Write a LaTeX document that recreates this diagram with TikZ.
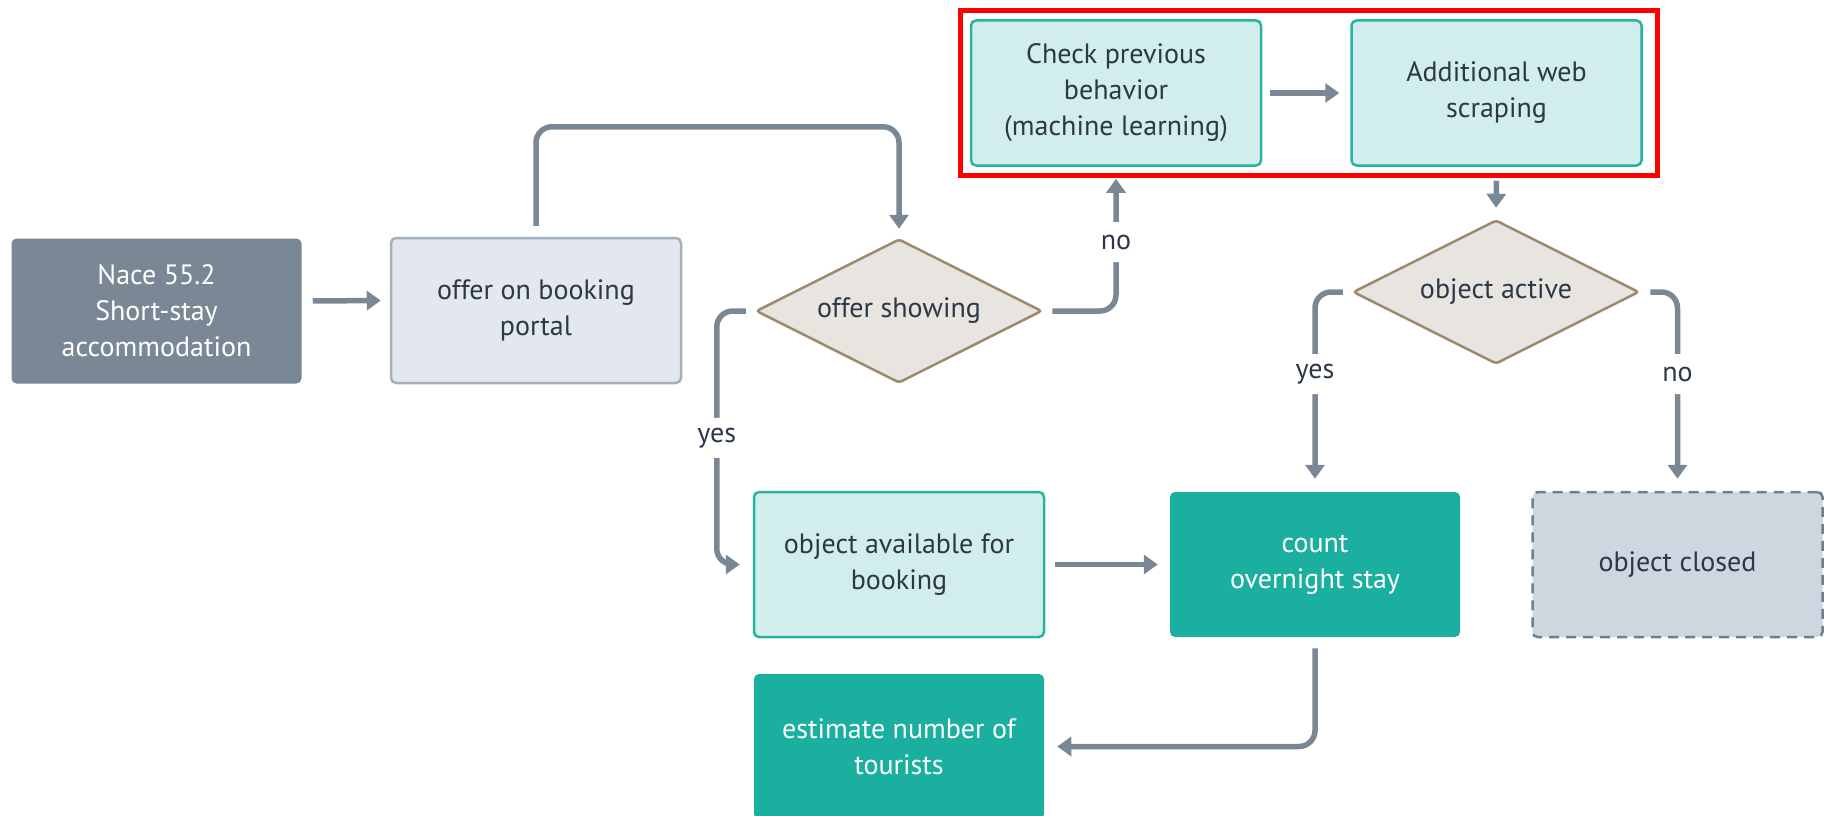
\documentclass[tikz,border=0pt]{standalone}
\usepackage{fontspec}
\setmainfont{PT Sans}
\usetikzlibrary{arrows.meta,calc,shapes.geometric}

\definecolor{slate}{HTML}{7A8896}
\definecolor{ink}{HTML}{2D3748}
\definecolor{mist}{HTML}{E2E8EE}
\definecolor{mistline}{HTML}{A3B1BF}
\definecolor{aqua}{HTML}{D2EEEC}
\definecolor{tealline}{HTML}{27B3A2}
\definecolor{tealfill}{HTML}{1BAF9F}
\definecolor{fog}{HTML}{CDD7E0}
\definecolor{fogline}{HTML}{6F7F8F}
\definecolor{sand}{HTML}{E8E5E0}
\definecolor{umber}{HTML}{9D8A6E}
\definecolor{alert}{HTML}{FF0000}

\newcommand\dfont{\fontsize{28}{36}\selectfont}

\begin{document}
\begin{tikzpicture}[x=1pt,y=-1pt,
  every node/.style={font=\dfont, align=center},
  box/.style={rectangle, rounded corners=5pt, minimum width=290pt,
    minimum height=145pt, line width=2.5pt, inner sep=0pt},
  darkbox/.style={box, fill=slate, text=white},
  greybox/.style={box, fill=mist, draw=mistline, text=ink},
  lightbox/.style={box, fill=aqua, draw=tealline, text=ink},
  tealbox/.style={box, fill=tealfill, text=white},
  closedbox/.style={box, fill=fog, draw=fogline, dash pattern=on 10pt off 7pt, text=ink},
  decision/.style={diamond, aspect=2, fill=sand, draw=umber, line width=2.5pt,
    minimum width=286pt, minimum height=144pt, inner sep=0pt, text=ink,
    rounded corners=3pt},
  conn/.style={draw=slate, line width=5.5pt, rounded corners=16pt,
    -{Triangle[width=19pt,length=14pt]}},
  tag/.style={fill=white, text=ink, inner xsep=3pt, inner ysep=0pt,
    minimum height=40pt},
]
\useasboundingbox (0,0) rectangle (1829,816);

% process steps
\node[darkbox]   (nace)   at (156.5,311)  {Nace 55.2\\Short-stay\\accommodation};
\node[greybox]   (offer)  at (536,310.5)  {offer on booking\\portal};
\node[decision]  (show)   at (899,311)    {offer showing};
\node[lightbox]  (check)  at (1116,93)    {Check previous\\behavior\\(machine learning)};
\node[lightbox]  (add)    at (1496.5,93)  {Additional web\\scraping};
\node[decision]  (active) at (1496,292)   {object active};
\node[lightbox]  (avail)  at (899,564.5)  {object available for\\booking};
\node[tealbox]   (count)  at (1315,564.5) {count\\overnight stay};
\node[closedbox] (closed) at (1677.5,564.5) {object closed};
\node[tealbox]   (est)    at (899,746.5)  {estimate number of\\tourists};

% highlight frame around the extra checks
\draw[alert, line width=5pt]
  ($(check.north west)+(-9pt,9pt)$) rectangle ($(add.south east)+(15pt,-9pt)$);

% connectors
\draw[conn] ($(nace.east)+(10pt,10pt)$) -- ($(offer.west)+(-9pt,10pt)$);
\draw[conn] ($(offer.north)+(0pt,11pt)$) |- ($(show.north)+(0pt,111pt)$)
  -- ($(show.north)+(0pt,9pt)$);
\draw[conn] ($(show.east)+(9pt,0pt)$) -| ($(check.south)+(0pt,-12pt)$)
  node[tag, pos=0.76] {no};
\draw[conn] ($(show.west)+(-9pt,0pt)$) -- ++(-29pt,0pt)
  |- ($(avail.west)+(-13pt,0pt)$) node[tag, pos=0.25] {yes};
\draw[conn] ($(check.east)+(8pt,0pt)$) -- ($(add.west)+(-11pt,0pt)$);
\draw[conn] ($(add.south)+(0pt,-14pt)$) -- ($(active.north)+(0pt,11pt)$);
\draw[conn] ($(active.west)+(-9pt,0pt)$) -| ($(count.north)+(0pt,12pt)$)
  node[tag, pos=0.72] {yes};
\draw[conn] ($(active.east)+(10pt,0pt)$) -| ($(closed.north)+(0pt,12pt)$)
  node[tag, pos=0.72] {no};
\draw[conn] ($(avail.east)+(10pt,0pt)$) -- ($(count.west)+(-11pt,0pt)$);
\draw[conn] ($(count.south)+(0pt,-10pt)$) |- ($(est.east)+(12pt,0pt)$);
\end{tikzpicture}
\end{document}
